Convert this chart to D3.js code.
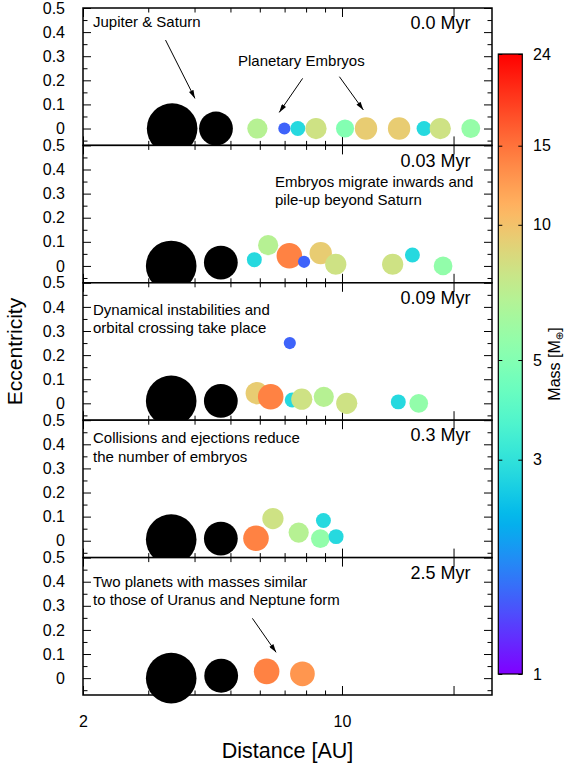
<!DOCTYPE html>
<html>
<head>
<meta charset="utf-8">
<script src="https://cdn.jsdelivr.net/npm/d3@7"></script>
<style>
  body { margin: 0; background: #fff; }
  svg { display: block; font-family: "Liberation Sans", Arial, Helvetica, sans-serif; }
</style>
</head>
<body>
<svg width="568" height="767"></svg>
<script>
// snapshot labels
const times = ['0.0 Myr', '0.03 Myr', '0.09 Myr', '0.3 Myr', '2.5 Myr'];

// gas giants: semi-major axis [AU], eccentricity per snapshot
const giantMass = [318, 95];
const jupiterA = [3.48, 3.46, 3.46, 3.46, 3.46];
const jupiterE = [0, 0, 0.01, 0.005, 0];
const saturnA = [4.57, 4.71, 4.71, 4.71, 4.72];
const saturnE = [0, 0.014, 0.01, 0.009, 0.01];

// embryos: [a (AU), e, mass (Earth masses)]
const emb0 = [[5.91, 0, 6.9], [6.99, 0, 1.5], [7.60, 0, 2.8], [8.51, 0, 8.0], [10.19, 0, 5.0],
              [11.61, 0, 9.4], [14.26, 0, 9.4], [16.65, 0, 2.8], [18.42, 0, 8.0], [22.26, 0, 5.6]];
const emb1 = [[5.80, 0.026, 2.8], [6.32, 0.086, 6.9], [7.21, 0.042, 14], [7.90, 0.017, 1.5], [8.76, 0.053, 9.4],
              [9.62, 0.007, 8.0], [13.70, 0.007, 8.0], [15.49, 0.045, 2.8], [18.74, 0, 5.5]];
const emb2 = [[5.89, 0.042, 9.4], [6.42, 0.027, 14], [7.23, 0.25, 1.5], [7.34, 0.014, 2.8], [7.79, 0.017, 8.0],
              [8.93, 0.027, 6.9], [10.30, 0, 8.0], [14.19, 0.006, 2.8], [16.11, 0, 5.5]];
const emb3 = [[5.86, 0.01, 14], [6.51, 0.092, 8.0], [7.64, 0.034, 6.9], [8.74, 0.009, 5.5], [8.91, 0.084, 2.8],
              [9.64, 0.017, 2.8]];
const emb4 = [[6.26, 0.028, 14], [7.82, 0.018, 12.7]];
const snapshots = [emb0, emb1, emb2, emb3, emb4];

// text notes per panel
const notes = [
  ['Jupiter & Saturn'],
  ['Embryos migrate inwards and', 'pile-up beyond Saturn'],
  ['Dynamical instabilities and', 'orbital crossing take place'],
  ['Collisions and ejections reduce', 'the number of embryos'],
  ['Two planets with masses similar', 'to those of Uranus and Neptune form']
];
// arrows in data coords: [a0, e0, a1, e1]
const arrows = [
  [[3.34, 0.367, 4.01, 0.125], [7.83, 0.208, 6.77, 0.067], [9.84, 0.215, 11.42, 0.077]],
  [], [], [],
  [[5.73, 0.248, 6.64, 0.107]]
];

// ticks
const eMajor = [0, 0.1, 0.2, 0.3, 0.4, 0.5];
const eMinor = [-0.05, 0.05, 0.15, 0.25, 0.35, 0.45];
const aMajor = [2, 10, 20];
const aMinor = [3, 4, 5, 6, 7, 8, 9];
const massTicks = [1, 3, 5, 10, 15, 24];

const svg = d3.select('svg');
const mLeft = 83, mTop = 8, pw = 409, ph = 137.4;

const x = d3.scaleLog().domain([2, 25.4]).range([0, pw]);
const y = d3.scaleLinear().domain([-0.07, 0.5]).range([ph, 0]);

// matplotlib-like rainbow
const rainbow = t => d3.rgb(
  255 * Math.min(1, Math.abs(2 * t - 0.5)),
  255 * Math.sin(Math.PI * t),
  255 * Math.cos(Math.PI * t / 2)) + '';
const color = d3.scaleSequentialLog(rainbow).domain([1, 24]);
const embryoR = d3.scalePow().exponent(1 / 3).domain([0, 24]).range([0, 15.3]);
const giantR = d3.scalePow().exponent(1 / 3).domain([0, 318]).range([0, 25.3]);

const defs = svg.append('defs');
defs.append('marker')
    .attr('id', 'arr')
    .attr('viewBox', '0 0 10 6')
    .attr('refX', 10).attr('refY', 3)
    .attr('markerWidth', 9).attr('markerHeight', 5)
    .attr('markerUnits', 'userSpaceOnUse')
    .attr('orient', 'auto')
  .append('path').attr('d', 'M0,0L10,3L0,6Z').attr('fill', '#000');

const noteX = [10, 192, 10, 10, 10];
const noteY = [19.4, 41.3, 32.2, 23.1, 29.1];

const tk = sel => sel.call(s => s.select('.domain').remove())
  .call(s => s.selectAll('line').attr('stroke', '#000').attr('stroke-width', 1));

times.forEach((label, i) => {
  const g = svg.append('g').attr('transform', `translate(${mLeft},${mTop + i * ph})`);
  g.append('rect').attr('width', pw).attr('height', ph).attr('fill', '#fff');

  // ticks
  g.append('g').call(d3.axisLeft(y).tickValues(eMajor).tickSize(-8).tickPadding(18)
      .tickFormat(d3.format(''))).call(tk)
    .selectAll('text').attr('font-size', 16).attr('fill', '#000');
  g.append('g').call(d3.axisLeft(y).tickValues(eMinor).tickSize(-4.5).tickFormat('')).call(tk);
  g.append('g').attr('transform', `translate(${pw},0)`)
    .call(d3.axisRight(y).tickValues(eMajor).tickSize(-8).tickFormat('')).call(tk);
  g.append('g').attr('transform', `translate(${pw},0)`)
    .call(d3.axisRight(y).tickValues(eMinor).tickSize(-4.5).tickFormat('')).call(tk);
  g.append('g').call(d3.axisTop(x).tickValues(aMajor).tickSize(-9).tickFormat('')).call(tk);
  g.append('g').call(d3.axisTop(x).tickValues(aMinor).tickSize(-4.5).tickFormat('')).call(tk);
  const bottom = g.append('g').attr('transform', `translate(0,${ph})`)
    .call(d3.axisBottom(x).tickValues(aMajor).tickSize(-9).tickPadding(21)
      .tickFormat(d => (i === times.length - 1 && d !== 20) ? d : '')).call(tk);
  bottom.selectAll('text').attr('font-size', 16).attr('fill', '#000');
  g.append('g').attr('transform', `translate(0,${ph})`)
    .call(d3.axisBottom(x).tickValues(aMinor).tickSize(-4.5).tickFormat('')).call(tk);

  // gas giants
  const giants = [[jupiterA[i], jupiterE[i], giantMass[0]], [saturnA[i], saturnE[i], giantMass[1]]];
  g.selectAll('circle.giant').data(giants).join('circle')
      .attr('class', 'giant')
      .attr('cx', d => x(d[0])).attr('cy', d => y(d[1]))
      .attr('r', d => giantR(d[2]))
      .attr('fill', '#000');

  // embryos
  g.selectAll('circle.emb').data(snapshots[i]).join('circle')
      .attr('class', 'emb')
      .attr('cx', d => x(d[0])).attr('cy', d => y(d[1]))
      .attr('r', d => embryoR(d[2]))
      .attr('fill', d => color(d[2]));

  // frame
  g.append('rect').attr('width', pw).attr('height', ph)
      .attr('fill', 'none').attr('stroke', '#000').attr('stroke-width', 1.5);

  g.append('text')
      .attr('x', pw - 21.5).attr('y', 21.3)
      .attr('text-anchor', 'end').attr('font-size', 18)
      .text(label);

  const t = g.append('text').attr('font-size', 15);
  notes[i].forEach((line, j) => {
    t.append('tspan').attr('x', noteX[i]).attr('y', noteY[i] + j * 18.4).text(line);
  });

  g.selectAll('line.arrow').data(arrows[i]).join('line')
      .attr('class', 'arrow')
      .attr('x1', d => x(d[0])).attr('y1', d => y(d[1]))
      .attr('x2', d => x(d[2])).attr('y2', d => y(d[3]))
      .attr('stroke', '#000').attr('stroke-width', 1)
      .attr('marker-end', 'url(#arr)');
});

// extra note in the first panel
svg.append('text')
    .attr('x', mLeft + 155).attr('y', mTop + 58)
    .attr('font-size', 15)
    .text('Planetary Embryos');

// axis titles
svg.append('text')
    .attr('x', mLeft + pw / 2).attr('y', 758)
    .attr('text-anchor', 'middle').attr('font-size', 21.5)
    .text('Distance [AU]');
svg.append('text')
    .attr('transform', `translate(22,${mTop + 2.5 * ph}) rotate(-90)`)
    .attr('text-anchor', 'middle').attr('font-size', 21)
    .text('Eccentricity');

// colour bar
const cbX = 498.3, cbW = 24, cbTop = 54, cbBot = 674;
const cy = d3.scaleLog().domain([1, 24]).range([cbBot, cbTop]);
const grad = defs.append('linearGradient')
    .attr('id', 'cb').attr('x1', 0).attr('y1', 1).attr('x2', 0).attr('y2', 0);
d3.range(0, 1.0001, 0.02).forEach(t => {
  grad.append('stop').attr('offset', t).attr('stop-color', rainbow(t));
});
const cb = svg.append('g').attr('transform', `translate(${cbX},0)`);
cb.append('rect').attr('y', cbTop).attr('width', cbW).attr('height', cbBot - cbTop)
    .attr('fill', 'url(#cb)');
cb.append('g').call(d3.axisLeft(cy).tickValues(massTicks).tickSize(-4).tickFormat(''))
    .call(tk);
cb.append('g').attr('transform', `translate(${cbW},0)`)
    .call(d3.axisRight(cy).tickValues(massTicks).tickSize(-4).tickPadding(10.7).tickFormat(d3.format('d')))
    .call(tk)
    .selectAll('text').attr('font-size', 16).attr('fill', '#000');
cb.append('rect').attr('y', cbTop).attr('width', cbW).attr('height', cbBot - cbTop)
    .attr('fill', 'none').attr('stroke', '#000').attr('stroke-width', 1.2);

const ml = svg.append('text')
    .attr('transform', `translate(560,${(cbTop + cbBot) / 2}) rotate(-90)`)
    .attr('text-anchor', 'middle').attr('font-size', 16);
ml.append('tspan').text('Mass [M');
ml.append('tspan').attr('font-size', 10).attr('dy', 3)
    .attr('font-family', '"DejaVu Sans", sans-serif').text('⊕');
ml.append('tspan').attr('dy', -3).text(']');
</script>
</body>
</html>
